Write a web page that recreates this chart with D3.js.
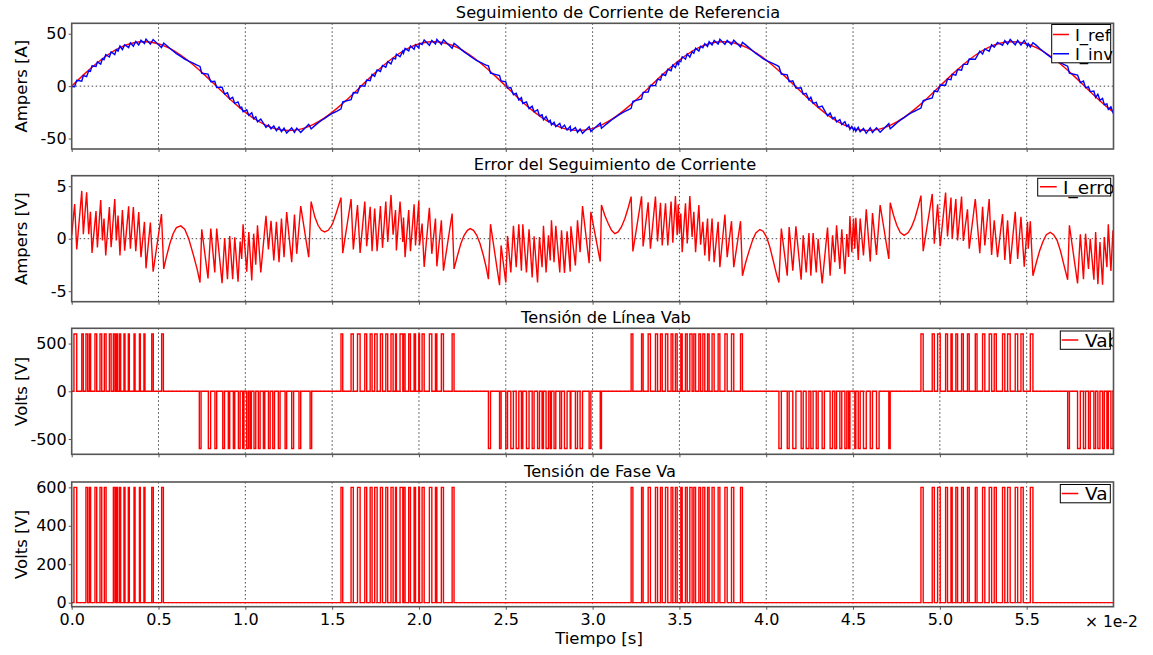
<!DOCTYPE html>
<html>
<head>
<meta charset="utf-8">
<script src="https://cdn.jsdelivr.net/npm/d3@7"></script>
<style>
  body { margin: 0; background: #fff; }
  svg { display: block; }
  text { font-family: "DejaVu Sans", Verdana, sans-serif; }
</style>
</head>
<body>
<svg id="chart" width="1153" height="655"></svg>
<script>
// ---- data (time in ms) ----
const timeTicksMs = [0, 5, 10, 15, 20, 25, 30, 35, 40, 45, 50, 55];

// reference current, sampled every 1/24 of a 60 Hz cycle
const refStepMs = 1000 / 60 / 24;
const iRef = [
  0, 11.0, 21.2, 30.0, 36.7, 41.0, 42.4, 41.0, 36.7, 30.0, 21.2, 11.0,
  0, -11.0, -21.2, -30.0, -36.7, -41.0, -42.4, -41.0, -36.7, -30.0, -21.2, -11.0,
  0, 11.0, 21.2, 30.0, 36.7, 41.0, 42.4, 41.0, 36.7, 30.0, 21.2, 11.0,
  0, -11.0, -21.2, -30.0, -36.7, -41.0, -42.4, -41.0, -36.7, -30.0, -21.2, -11.0,
  0, 11.0, 21.2, 30.0, 36.7, 41.0, 42.4, 41.0, 36.7, 30.0, 21.2, 11.0,
  0, -11.0, -21.2, -30.0, -36.7, -41.0, -42.4, -41.0, -36.7, -30.0, -21.2, -11.0,
  0, 11.0, 21.2, 30.0, 36.7, 41.0, 42.4, 41.0, 36.7, 30.0, 21.2, 11.0,
  0, -11.0, -21.2, -30.0
];

// tracking error I_ref - I_inv  [ms, A]
const iError = [
  [0.00,0.32],[0.17,3.30],[0.29,-1.03],[0.58,4.55],[0.67,0.42],[0.86,4.42],[0.98,0.42],[1.08,2.56],[1.17,-1.35],[1.40,2.63],[1.48,-0.83],[1.67,3.69],[1.77,-0.16],[1.86,1.92],[1.96,-1.60],[2.17,3.01],[2.27,-0.80],[2.48,3.78],[2.57,-0.16],[2.67,2.21],[2.78,-1.60],[2.92,2.72],[3.05,-1.15],[3.28,3.08],[3.38,-0.96],[3.55,3.01],[3.69,-1.19],[3.86,2.53],[3.99,-1.76],[4.19,1.60],[4.28,-2.82],[4.53,1.54],[4.69,-3.14],[5.17,2.34],[5.30,-2.88],
  [5.45,-1.76],[5.65,-0.48],[5.84,0.48],[6.03,1.06],[6.28,1.22],[6.51,0.90],[6.74,0.00],[6.99,-1.44],[7.22,-2.88],[7.39,-4.17],
  [7.49,0.90],[7.85,-3.78],[8.01,0.96],[8.24,-3.21],[8.35,0.96],[8.66,-4.23],[8.81,0.06],[8.97,-3.85],[9.10,0.26],[9.27,-3.85],[9.39,0.13],[9.58,-4.10],[9.70,-0.26],[9.79,-1.92],[9.87,1.38],[10.08,-3.14],[10.20,0.64],[10.37,-3.97],[10.48,0.48],[10.60,-2.47],[10.70,1.28],[10.89,-3.21],[11.19,2.18],[11.33,-1.03],[11.48,1.70],[11.64,-2.08],[11.79,1.60],[11.94,-2.24],[12.08,1.92],[12.23,-1.76],[12.38,2.53],[12.67,-2.24],[12.83,2.31],[12.96,-1.44],[13.19,3.11],[13.65,-1.76],[13.79,3.53],
  [14.00,2.08],[14.19,1.28],[14.38,0.80],[14.57,0.64],[14.77,0.80],[14.96,1.22],[15.05,1.54],[15.26,2.56],[15.51,3.91],
  [15.61,-1.38],[16.09,3.78],[16.22,-1.03],[16.46,3.21],[16.61,-1.35],[16.88,3.53],[16.99,-0.71],[17.19,3.04],[17.30,-1.19],[17.45,2.88],[17.59,-1.19],[17.78,3.11],[17.90,-0.87],[18.09,3.53],[18.20,-0.32],[18.39,4.17],[18.51,0.38],[18.65,2.72],[18.70,-1.12],[18.91,3.53],[19.07,-0.32],[19.11,2.02],[19.20,-1.76],[19.41,2.72],[19.51,-1.19],[19.72,3.27],[19.80,-0.64],[19.99,3.59],[20.03,-0.64],[20.18,1.44],[20.30,-2.69],[20.60,2.95],[20.74,-1.44],[20.95,1.92],[21.03,-2.63],[21.29,1.76],[21.41,-3.04],[21.91,2.40],[22.02,-2.88],
  [22.22,-1.60],[22.41,-0.48],[22.60,0.32],[22.79,0.80],[22.95,0.96],[23.14,0.80],[23.33,0.32],[23.52,-0.48],[23.71,-1.60],[23.87,-2.72],[24.00,-3.85],
  [24.12,1.38],[24.64,-4.42],[24.73,-0.64],[25.00,-4.17],[25.10,0.26],[25.29,-3.21],[25.44,1.22],[25.60,-2.72],[25.75,1.38],[25.90,-3.04],[25.98,1.38],[26.19,-3.21],[26.34,0.90],[26.52,-3.69],[26.63,0.22],[26.83,-4.17],[26.94,0.16],[27.09,-2.72],[27.17,1.22],[27.32,-3.21],[27.46,0.32],[27.56,-2.08],[27.63,1.76],[27.78,-2.24],[27.88,1.22],[28.11,-3.21],[28.21,0.80],[28.38,-3.27],[28.53,0.71],[28.71,-3.14],[28.75,1.19],[29.01,-2.56],[29.13,1.76],[29.28,-1.28],[29.42,3.11],[29.80,-2.34],[29.90,2.56],
  [30.44,-2.18],[30.51,3.21],[30.70,2.24],[30.90,1.44],[31.09,0.80],[31.28,0.48],[31.47,0.64],[31.66,1.12],[31.86,1.92],[32.05,2.95],[32.22,4.01],
  [32.32,-1.22],[32.82,4.04],[32.91,-0.74],[33.20,3.46],[33.33,-0.96],[33.62,4.01],[33.74,-0.26],[33.91,3.43],[34.01,-0.64],[34.20,3.37],[34.33,-0.64],[34.52,3.53],[34.62,-0.38],[34.77,4.07],[34.87,0.32],[34.93,3.27],[35.00,0.48],[35.08,2.40],[35.16,-1.28],[35.35,3.37],[35.45,-0.45],[35.60,4.07],[35.73,0.16],[35.83,2.56],[35.93,-1.28],[36.12,3.21],[36.22,-0.58],[36.35,1.60],[36.46,-1.60],[36.62,1.92],[36.71,-2.15],[36.88,1.92],[37.00,-2.24],[37.23,1.60],[37.33,-2.72],[37.62,2.31],[37.75,-1.76],[38.00,1.67],[38.13,-2.72],[38.52,1.67],[38.63,-3.53],
  [38.82,-2.24],[39.02,-1.12],[39.21,-0.16],[39.40,0.54],[39.63,0.87],[39.82,0.71],[40.02,0.16],[40.21,-0.80],[40.40,-2.08],[40.59,-3.37],[40.73,-4.17],
  [40.87,0.96],[41.21,-3.53],[41.32,1.12],[41.53,-3.04],[41.71,1.19],[42.01,-3.91],[42.13,0.32],[42.30,-3.21],[42.46,0.54],[42.57,-3.53],[42.70,0.54],[42.88,-3.21],[42.99,0.00],[43.22,-4.26],[43.53,1.06],[43.68,-3.53],[43.82,0.32],[43.95,-2.24],[44.05,1.28],[44.24,-2.88],[44.35,0.90],[44.53,-3.37],[44.64,0.45],[44.74,-1.73],[44.82,2.15],[44.93,-1.28],[45.03,1.92],[45.10,-0.96],
  [45.16,1.99],[45.30,-2.02],[45.41,1.92],[45.60,-1.60],[45.76,2.79],[45.99,-2.18],[46.12,2.44],[46.35,-1.54],[46.56,3.21],[47.06,-1.92],[47.14,3.43],
  [47.33,2.24],[47.52,1.28],[47.72,0.58],[47.94,0.32],[48.18,0.58],[48.37,1.12],[48.56,1.92],[48.75,3.04],[48.91,4.10],
  [49.04,-1.19],[49.56,4.26],[49.68,-0.48],[49.87,3.27],[50.02,-0.71],[50.33,4.39],[50.44,0.22],[50.64,3.91],[50.71,0.00],[50.92,3.78],[51.02,-0.16],[51.25,4.01],[51.35,-0.22],[51.59,2.79],[51.69,-0.96],[52.04,3.78],[52.30,-1.38],[52.46,3.04],[52.59,-0.64],[52.84,3.78],[52.98,-1.54],[53.13,1.76],[53.32,-1.76],[53.61,2.34],[53.74,-2.02],[53.90,1.76],[54.05,-2.40],[54.34,2.56],[54.48,-1.92],[54.67,2.08],[54.86,-2.66],[55.05,1.60],[55.09,-0.96],[55.21,1.67],[55.36,-3.53],
  [55.56,-2.24],[55.75,-1.12],[55.94,-0.26],[56.13,0.38],[56.36,0.61],[56.55,0.38],[56.75,-0.16],[56.94,-1.12],[57.13,-2.40],[57.36,-3.91],
  [57.46,1.28],[57.93,-4.26],[58.09,0.42],[58.27,-3.85],[58.39,0.48],[58.56,-2.88],[58.66,0.00],[58.87,-3.91],[58.97,0.64],[59.10,-4.33],[59.22,-0.32],[59.37,-4.39],[59.47,0.16],[59.62,-2.72],[59.70,1.38],[59.85,-3.08],[59.97,0.80],[60.00,-0.50]
];

const vdc = 600;

// phase-a switch-on intervals [start, end] in ms
const vaPulses = [
  [0.13,0.29],[0.82,0.92],[1.02,1.09],[1.34,1.44],[1.63,1.73],[1.88,1.98],[2.40,2.49],[2.55,2.63],[2.74,2.82],[3.01,3.07],[3.26,3.32],[3.59,3.65],[3.90,3.95],[4.16,4.22],[4.61,4.70],[5.18,5.28],
  [15.51,15.61],[16.09,16.22],[16.46,16.61],[16.88,16.99],[17.19,17.30],[17.45,17.59],[17.78,17.90],[18.09,18.20],[18.39,18.51],[18.65,18.70],[18.91,19.07],[19.11,19.20],[19.41,19.51],[19.72,19.80],[19.99,20.03],[20.18,20.30],[20.60,20.74],[20.95,21.03],[21.29,21.41],[21.91,22.02],
  [32.22,32.32],[32.82,32.91],[33.20,33.33],[33.62,33.74],[33.91,34.01],[34.20,34.33],[34.52,34.62],[34.77,34.87],[35.08,35.16],[35.35,35.45],[35.60,35.73],[35.83,35.93],[36.12,36.22],[36.35,36.46],[36.62,36.71],[36.88,37.00],[37.23,37.33],[37.62,37.75],[38.00,38.13],[38.52,38.63],
  [48.91,49.04],[49.56,49.68],[49.87,50.02],[50.33,50.44],[50.64,50.71],[50.92,51.02],[51.25,51.35],[51.59,51.69],[52.04,52.14],[52.46,52.59],[52.84,52.98],[53.13,53.25],[53.61,53.74],[53.90,54.05],[54.34,54.48],[54.67,54.80],[55.21,55.36]
];

// extra positive line-voltage pulses (phase b low while a high)
const vabExtraPos = [[0.58,0.67],[2.17,2.27]];

// negative line-voltage pulses (phase b switched on)
const vabNegPulses = [
  [7.35,7.45],[7.87,8.00],[8.25,8.35],[8.70,8.80],[9.02,9.10],[9.31,9.39],[9.60,9.70],[9.85,9.92],[10.08,10.18],[10.27,10.35],[10.50,10.60],[10.75,10.85],[11.04,11.12],[11.33,11.43],[11.58,11.68],[11.90,12.00],[12.29,12.38],[12.67,12.78],[13.09,13.19],[13.73,13.82],
  [24.00,24.12],[24.64,24.73],[25.00,25.10],[25.29,25.44],[25.60,25.75],[25.90,25.98],[26.19,26.34],[26.52,26.63],[26.83,26.94],[27.09,27.17],[27.32,27.46],[27.56,27.63],[27.78,27.88],[28.11,28.21],[28.38,28.53],[28.71,28.75],[29.01,29.13],[29.28,29.42],[29.80,29.90],[30.44,30.51],
  [40.73,40.87],[41.21,41.32],[41.53,41.71],[42.01,42.13],[42.30,42.46],[42.57,42.70],[42.88,42.99],[43.22,43.35],[43.68,43.82],[43.95,44.05],[44.24,44.35],[44.53,44.64],[44.74,44.82],[45.10,45.16],[45.30,45.41],[45.60,45.76],[45.99,46.12],[46.35,46.50],[47.06,47.14],
  [57.36,57.46],[57.93,58.09],[58.27,58.39],[58.56,58.66],[58.87,58.97],[59.10,59.22],[59.37,59.47],[59.62,59.70],[59.85,59.97]
];

// ---- layout ----
const plotLeft = 71.7, plotRight = 1113.5;
const panels = [
  { key: "cur",  top: 23.3,  bottom: 149,   domain: [-60, 60],   ticks: [-50, 0, 50],
    title: "Seguimiento de Corriente de Referencia", titleX: 618, ylabel: "Ampers [A]" },
  { key: "err",  top: 175.7, bottom: 301.7, domain: [-6, 6],     ticks: [-5, 0, 5],
    title: "Error del Seguimiento de Corriente", titleX: 615, ylabel: "Ampers [V]" },
  { key: "vab",  top: 328.3, bottom: 454.3, domain: [-660, 660], ticks: [-500, 0, 500],
    title: "Tensión de Línea Vab", titleX: 606, ylabel: "Volts [V]" },
  { key: "va",   top: 482,   bottom: 606.7, domain: [-21, 628],  ticks: [0, 200, 400, 600],
    title: "Tensión de Fase Va", titleX: 600, ylabel: "Volts [V]" }
];

const svg = d3.select("#chart");
const x = d3.scaleLinear().domain([0, 60]).range([plotLeft, plotRight]);

function iRefAt(t) {
  const p = t / refStepMs;
  const i = Math.min(Math.floor(p), iRef.length - 2);
  const f = p - i;
  return iRef[i] * (1 - f) + iRef[i + 1] * f;
}

function pulseTrace(pulses) {
  const pts = [[0, 0]];
  pulses.forEach(([a, b, lvl]) => {
    pts.push([a, 0], [a, lvl], [b, lvl], [b, 0]);
  });
  pts.push([60, 0]);
  return pts;
}

const refPts = iRef.map((v, k) => [k * refStepMs, v]);
const invPts = iError.map(([t, e]) => [t, iRefAt(t) - e]);
const vaTrace = pulseTrace(vaPulses.map(([a, b]) => [a, b, vdc]));
const vabTrace = pulseTrace(
  vaPulses.concat(vabExtraPos).map(([a, b]) => [a, b, vdc])
    .concat(vabNegPulses.map(([a, b]) => [a, b, -vdc]))
    .sort((p, q) => p[0] - q[0])
);

const series = {
  cur: [
    { pts: refPts, color: "#ff0000", curve: d3.curveNatural, name: "I_ref" },
    { pts: invPts, color: "#0000ff", curve: d3.curveLinear, name: "I_inv" }
  ],
  err: [{ pts: iError, color: "#ff0000", curve: d3.curveLinear, name: "I_error" }],
  vab: [{ pts: vabTrace, color: "#ff0000", curve: d3.curveLinear, name: "Vab" }],
  va:  [{ pts: vaTrace, color: "#ff0000", curve: d3.curveLinear, name: "Va" }]
};

const legendBoxes = {
  cur: { x: 1051.7, y: 24.5, w: 59, h: 38.3, rows: [34.5, 53.8], lineX: [1053, 1069], textX: 1075, dy: 6, fs: 16.5 },
  err: { x: 1037.7, y: 178.3, w: 73, h: 17.7, rows: [186.7], lineX: [1040, 1056.7], textX: 1063, dy: 7.3, fs: 18.5 },
  vab: { x: 1060.3, y: 331, w: 50, h: 18.3, rows: [340], lineX: [1061.7, 1078.3], textX: 1085, dy: 6.7, fs: 18.5 },
  va:  { x: 1060.3, y: 484.5, w: 50, h: 18.3, rows: [493.5], lineX: [1061.7, 1078.3], textX: 1085, dy: 6.7, fs: 18.5 }
};

const defs = svg.append("defs");

panels.forEach((p, i) => {
  const y = d3.scaleLinear().domain(p.domain).range([p.bottom, p.top]);
  const g = svg.append("g");
  const clipId = "clip-" + p.key;
  defs.append("clipPath").attr("id", clipId)
    .append("rect").attr("x", plotLeft).attr("y", p.top)
    .attr("width", plotRight - plotLeft).attr("height", p.bottom - p.top);

  // dotted grid
  const grid = g.append("g").attr("stroke", "#444").attr("stroke-width", 1)
    .attr("stroke-dasharray", "1.5,2.5");
  timeTicksMs.filter(t => t > 0).forEach(t => {
    grid.append("line").attr("x1", x(t)).attr("x2", x(t))
      .attr("y1", p.top).attr("y2", p.bottom);
  });
  grid.append("line").attr("x1", plotLeft).attr("x2", plotRight)
    .attr("y1", y(0)).attr("y2", y(0));

  // data
  const dg = g.append("g").attr("clip-path", `url(#${clipId})`);
  series[p.key].forEach(s => {
    const line = d3.line().x(d => x(d[0])).y(d => y(d[1])).curve(s.curve);
    dg.append("path").datum(s.pts).attr("d", line)
      .attr("fill", "none").attr("stroke", s.color).attr("stroke-width", 1.4)
      .attr("stroke-linejoin", "miter");
  });

  // legend
  const lb = legendBoxes[p.key];
  const lg = dg.append("g");
  lg.append("rect").attr("x", lb.x).attr("y", lb.y).attr("width", lb.w).attr("height", lb.h)
    .attr("fill", "#fff").attr("stroke", "#000").attr("stroke-width", 1);
  series[p.key].forEach((s, k) => {
    const ry = lb.rows[k];
    lg.append("line").attr("x1", lb.lineX[0]).attr("x2", lb.lineX[1])
      .attr("y1", ry).attr("y2", ry).attr("stroke", s.color).attr("stroke-width", 1.4);
    lg.append("text").attr("x", lb.textX).attr("y", ry + lb.dy)
      .attr("font-size", lb.fs).attr("fill", "#000").text(s.name);
  });

  // frame
  g.append("rect").attr("x", plotLeft).attr("y", p.top)
    .attr("width", plotRight - plotLeft).attr("height", p.bottom - p.top)
    .attr("fill", "none").attr("stroke", "#555").attr("stroke-width", 1.6);

  // y axis
  const ya = g.append("g").attr("transform", `translate(${plotLeft},0)`)
    .call(d3.axisLeft(y).tickValues(p.ticks).tickSize(3).tickPadding(2).tickFormat(d => String(d)));
  ya.select(".domain").remove();
  ya.selectAll("text").attr("font-size", 16).attr("font-family", null);
  ya.selectAll("line").attr("stroke", "#555");

  // x ticks along the bottom edge
  const xa = g.append("g").attr("transform", `translate(0,${p.bottom})`)
    .call(d3.axisBottom(x).tickValues(timeTicksMs).tickSize(3).tickPadding(4)
      .tickFormat(i === panels.length - 1 ? (d => (d / 10).toFixed(1)) : ""));
  xa.select(".domain").remove();
  xa.selectAll("text").attr("font-size", 16).attr("font-family", null);
  xa.selectAll("line").attr("stroke", "#555");

  // titles
  svg.append("text").attr("x", p.titleX).attr("y", p.top - 5.5)
    .attr("text-anchor", "middle").attr("font-size", 16.2).text(p.title);
  svg.append("text")
    .attr("transform", `translate(27,${(p.top + p.bottom) / 2}) rotate(-90)`)
    .attr("text-anchor", "middle").attr("font-size", 16.5).text(p.ylabel);
});

svg.append("text").attr("x", 1085).attr("y", 627.3).attr("font-size", 15.5).text("× 1e-2");
svg.append("text").attr("x", 599).attr("y", 644)
  .attr("text-anchor", "middle").attr("font-size", 16.5).text("Tiempo [s]");
</script>
</body>
</html>
